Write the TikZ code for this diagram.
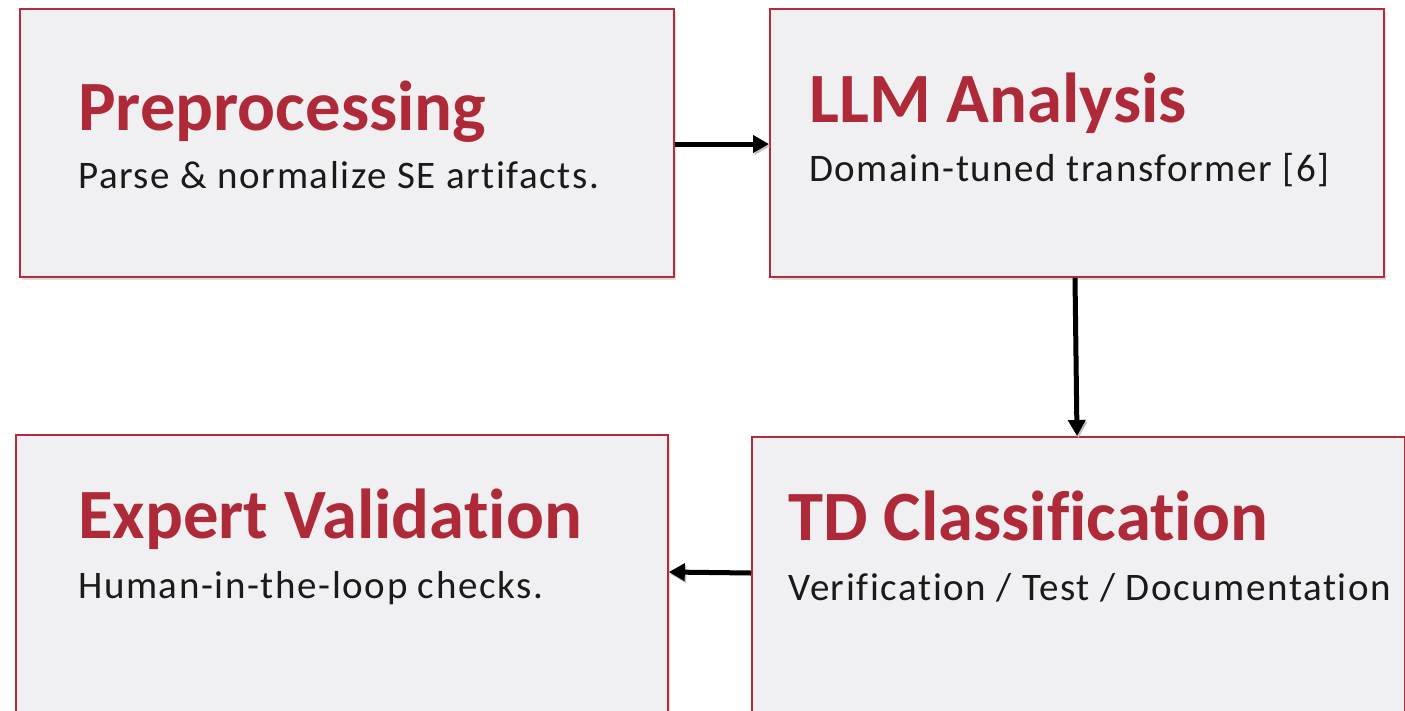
\documentclass[tikz,border=0pt]{standalone}
\usepackage{fontspec}
\setmainfont{Carlito}[Ligatures=NoCommon]
\newfontfamily\stagebodyfont{Carlito}[Ligatures=NoCommon, LetterSpace=4.1]
\usetikzlibrary{arrows.meta,shadows,calc}
\definecolor{stagered}{HTML}{AE2A38}
\definecolor{stageborder}{HTML}{B52B3B}
\definecolor{stagefill}{HTML}{F0F0F2}
\definecolor{bodytext}{HTML}{1A1A1A}
\tikzset{
  stagebox/.style={draw=stageborder, line width=1.8pt, fill=stagefill,
    rectangle, inner sep=0pt, anchor=north west,
    drop shadow={opacity=0.25, shadow xshift=2pt, shadow yshift=-3pt}},
  stagetitle/.style={anchor=base west, inner sep=0pt, text=stagered,
    font=\fontsize{70.7}{80}\selectfont\bfseries},
  stagebody/.style={anchor=base west, inner sep=0pt, text=bodytext,
    font=\stagebodyfont\fontsize{39}{46}\selectfont},
  flow/.style={line width=5pt, draw=black,
    -{Triangle[length=16pt,width=17pt]},
    preaction={draw=black!25, transform canvas={xshift=1.5pt,yshift=-2pt}}}
}
\begin{document}
\begin{tikzpicture}[x=1pt,y=-1pt]
\useasboundingbox (0,0) rectangle (1405,710);
% stage boxes
\node[stagebox, minimum width=654pt, minimum height=268pt] (pre) at (19,8) {};
\node[stagebox, minimum width=614pt, minimum height=268pt] (llm) at (769,8) {};
\node[stagebox, minimum width=652pt, minimum height=300pt] (exp) at (15,434) {};
\node[stagebox, minimum width=653pt, minimum height=300pt] (tdc) at (751,436) {};
% titles and descriptions
\node[stagetitle] (preT) at (78,130) {Preprocessing};
\node[stagebody] (preB) at (78,188) {Parse \& normalize SE artifacts.};
\node[stagetitle] (llmT) at (809,122) {LLM Analysis};
\node[stagebody] (llmB) at (809,181) {Domain-tuned transformer [6]};
\node[stagetitle] (expT) at (78,538) {Expert Validation};
\node[stagebody] (expB) at (78,598) {Human-in-the-loop checks.};
\node[stagetitle] (tdcT) at (788,540) {TD Classification};
\node[stagebody] (tdcB) at (788,600) {Verification / Test / Documentation};
% flow connectors
\coordinate (a1s) at ($(pre.north east)+(0,136)$);
\coordinate (a1e) at ($(llm.north west)+(0,136)$);
\draw[flow] (a1s) -- (a1e);
\coordinate (a2s) at ($(llm.south west)+(306,0)$);
\coordinate (a2e) at ($(tdc.north west)+(326,0)$);
\draw[flow] (a2s) -- (a2e);
\coordinate (a3s) at ($(tdc.north west)+(0,137)$);
\coordinate (a3e) at ($(exp.north east)+(0,138)$);
\draw[flow] (a3s) -- (a3e);
\end{tikzpicture}
\end{document}
